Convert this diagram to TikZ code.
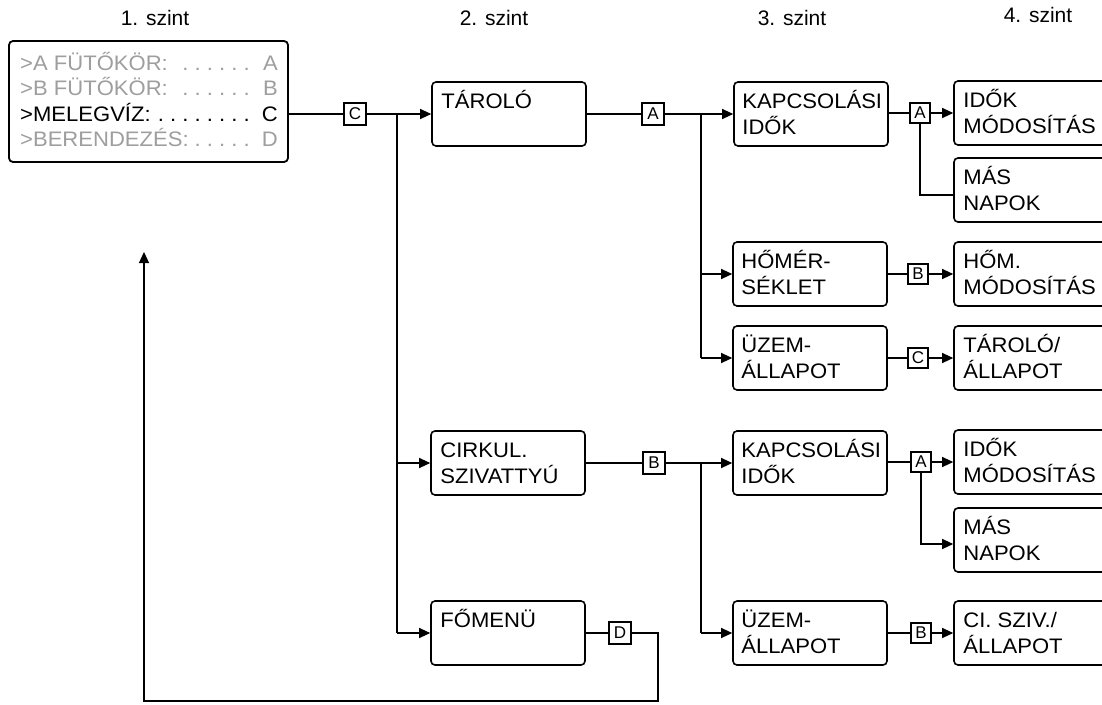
\documentclass[tikz,border=0pt]{standalone}
\usepackage{fontspec}
\setmainfont{Liberation Sans}
\newfontfamily\boxfont[FakeStretch=1.05]{Liberation Sans}
\usetikzlibrary{arrows.meta}
\definecolor{dim}{gray}{0.62}

\begin{document}
\begin{tikzpicture}[x=1pt,y=-1pt,
  menubox/.style={draw, line width=1.6pt, rounded corners=4pt, inner sep=0pt},
  tag/.style={draw, line width=1.1pt, minimum size=22pt, inner sep=0pt,
              font=\fontsize{17}{17}\selectfont},
  smalltag/.style={tag, minimum size=20pt},
  link/.style={line width=1.1pt},
  arr/.style={link, -{Triangle[length=11pt,width=10pt]}},
  % box captions: the node sits on the baseline of the last line
  boxtext/.style={anchor=base west, align=left, inner sep=0pt,
                  font=\boxfont\fontsize{21}{26}\selectfont},
  lvl/.style={anchor=base, inner sep=0pt, font=\fontsize{21}{21}\selectfont},
  dtext/.style={inner sep=0pt, font=\boxfont\fontsize{21}{21}\selectfont},
  lev2/.style={menubox, minimum width=154pt, minimum height=64pt},
  lev3/.style={menubox, minimum width=154pt, minimum height=64pt},
  lev4/.style={menubox, minimum width=170pt, minimum height=64pt},
]
\useasboundingbox (0,0) rectangle (1102,704);
\clip (0,0) rectangle (1102,704);

% level headings
\node[lvl] (h1) at (155,25) {1. szint};
\node[lvl] (h2) at (494,25) {2. szint};
\node[lvl] (h3) at (792,25) {3. szint};
\node[lvl] (h4) at (1038,23) {4. szint};

% level 1: display window
\node[menubox, line width=1.8pt, minimum width=279pt, minimum height=121pt] (l1) at (148.5,101.5) {};
\node[dtext, anchor=base west, text=dim] (r1) at (20,70) {>A FÜTŐKÖR:};
\node[dtext, anchor=base east, text=dim] (d1) at (250,70) {.\ .\ .\ .\ .\ .};
\node[dtext, anchor=base east, text=dim] (k1) at (278,70) {A};
\node[dtext, anchor=base west, text=dim] (r2) at (20,95) {>B FÜTŐKÖR:};
\node[dtext, anchor=base east, text=dim] (d2) at (250,95) {.\ .\ .\ .\ .\ .};
\node[dtext, anchor=base east, text=dim] (k2) at (278,95) {B};
\node[dtext, anchor=base west] (r3) at (20,121) {>MELEGVÍZ:};
\node[dtext, anchor=base east] (d3) at (250,121) {.\ .\ .\ .\ .\ .\ .\ .};
\node[dtext, anchor=base east] (k3) at (278,121) {C};
\node[dtext, anchor=base west, text=dim] (r4) at (20,146) {>BERENDEZÉS:};
\node[dtext, anchor=base east, text=dim] (d4) at (250,146) {.\ .\ .\ .\ .};
\node[dtext, anchor=base east, text=dim] (k4) at (278,146) {D};

% level 2
\node[lev2] (taro) at (509,114) {};
\node[lev2] (cirk) at (508,463) {};
\node[lev2] (fome) at (508,633) {};
\node[boxtext] at ([xshift=10pt,yshift=-27pt]taro.north west) {TÁROLÓ};
\node[boxtext] at ([xshift=10pt,yshift=-53pt]cirk.north west) {CIRKUL.\\SZIVATTYÚ};
\node[boxtext] at ([xshift=10pt,yshift=-27pt]fome.north west) {FŐMENÜ};

% level 3
\node[lev3] (kap1) at (811,114) {};
\node[lev3] (hom)  at (810,274) {};
\node[lev3] (uz1)  at (810,358) {};
\node[lev3] (kap2) at (810,463) {};
\node[lev3] (uz2)  at (810,633) {};
\node[boxtext] at ([xshift=9pt,yshift=-53pt]kap1.north west) {KAPCSOLÁSI\\IDŐK};
\node[boxtext] at ([xshift=9pt,yshift=-53pt]hom.north west) {HŐMÉR-\\SÉKLET};
\node[boxtext] at ([xshift=9pt,yshift=-53pt]uz1.north west) {ÜZEM-\\ÁLLAPOT};
\node[boxtext] at ([xshift=9pt,yshift=-53pt]kap2.north west) {KAPCSOLÁSI\\IDŐK};
\node[boxtext] at ([xshift=9pt,yshift=-53pt]uz2.north west) {ÜZEM-\\ÁLLAPOT};

% level 4
\node[lev4] (im1) at (1039,113) {};
\node[lev4] (mn1) at (1039,190) {};
\node[lev4] (hm)  at (1039,274) {};
\node[lev4] (ta)  at (1039,358) {};
\node[lev4] (im2) at (1039,462) {};
\node[lev4] (mn2) at (1039,540) {};
\node[lev4] (cs)  at (1039,633) {};
\node[boxtext] at ([xshift=10pt,yshift=-53pt]im1.north west) {IDŐK\\MÓDOSÍTÁS};
\node[boxtext] at ([xshift=10pt,yshift=-53pt]mn1.north west) {MÁS\\NAPOK};
\node[boxtext] at ([xshift=10pt,yshift=-53pt]hm.north west) {HŐM.\\MÓDOSÍTÁS};
\node[boxtext] at ([xshift=10pt,yshift=-53pt]ta.north west) {TÁROLÓ/\\ÁLLAPOT};
\node[boxtext] at ([xshift=10pt,yshift=-53pt]im2.north west) {IDŐK\\MÓDOSÍTÁS};
\node[boxtext] at ([xshift=10pt,yshift=-53pt]mn2.north west) {MÁS\\NAPOK};
\node[boxtext] at ([xshift=10pt,yshift=-53pt]cs.north west) {CI. SZIV./\\ÁLLAPOT};

% key tags
\node[tag] (tC)  at (355,114) {C};
\node[tag] (tA)  at (653,114) {A};
\node[tag] (tB)  at (654,463) {B};
\node[tag] (tD)  at (620,633) {D};
\node[smalltag] (sA1) at (920,113) {A};
\node[smalltag] (sB1) at (918,274) {B};
\node[smalltag] (sC1) at (918,358) {C};
\node[smalltag] (sA2) at (921,462) {A};
\node[smalltag] (sB2) at (921,633) {B};

% branch points
\coordinate (j2) at (397,114);
\coordinate (j3a) at (701,114);
\coordinate (j3b) at (701,463);
\coordinate (fbR) at (658,701);
\coordinate (fbL) at (144,701);
\coordinate (fbTip) at (144,252);

% level 1 -> level 2
\draw[link] (l1.east |- tC) -- (tC.west);
\draw[arr] (tC.east) -- (taro.west);
\draw[link] (j2) -- (j2 |- fome.west);
\draw[arr] (j2 |- cirk.west) -- (cirk.west);
\draw[arr] (j2 |- fome.west) -- (fome.west);

% TÁROLÓ branch
\draw[link] (taro.east |- tA) -- (tA.west);
\draw[arr] (tA.east) -- (kap1.west |- tA);
\draw[link] (j3a) -- (j3a |- uz1.west);
\draw[arr] (j3a |- hom.west) -- (hom.west);
\draw[arr] (j3a |- uz1.west) -- (uz1.west);
\draw[link] (kap1.east |- sA1) -- (sA1.west);
\draw[arr] (sA1.east) -- (im1.west |- sA1);
\draw[link] (sA1.south) |- ([yshift=-5pt]mn1.west);
\draw[link] (hom.east) -- (sB1.west);
\draw[arr] (sB1.east) -- (hm.west);
\draw[link] (uz1.east) -- (sC1.west);
\draw[arr] (sC1.east) -- (ta.west);

% CIRKUL. SZIVATTYÚ branch
\draw[link] (cirk.east) -- (tB.west);
\draw[arr] (tB.east) -- (kap2.west);
\draw[link] (j3b) -- (j3b |- uz2.west);
\draw[arr] (j3b |- uz2.west) -- (uz2.west);
\draw[link] (kap2.east |- sA2) -- (sA2.west);
\draw[arr] (sA2.east) -- (im2.west |- sA2);
\draw[arr] (sA2.south) |- ([yshift=-4pt]mn2.west);
\draw[link] (uz2.east) -- (sB2.west);
\draw[arr] (sB2.east) -- (cs.west);

% FŐMENÜ: return to level 1
\draw[link] (fome.east) -- (tD.west);
\draw[arr] (tD.east) -| (fbR) -- (fbL) -- (fbTip);
\end{tikzpicture}
\end{document}
